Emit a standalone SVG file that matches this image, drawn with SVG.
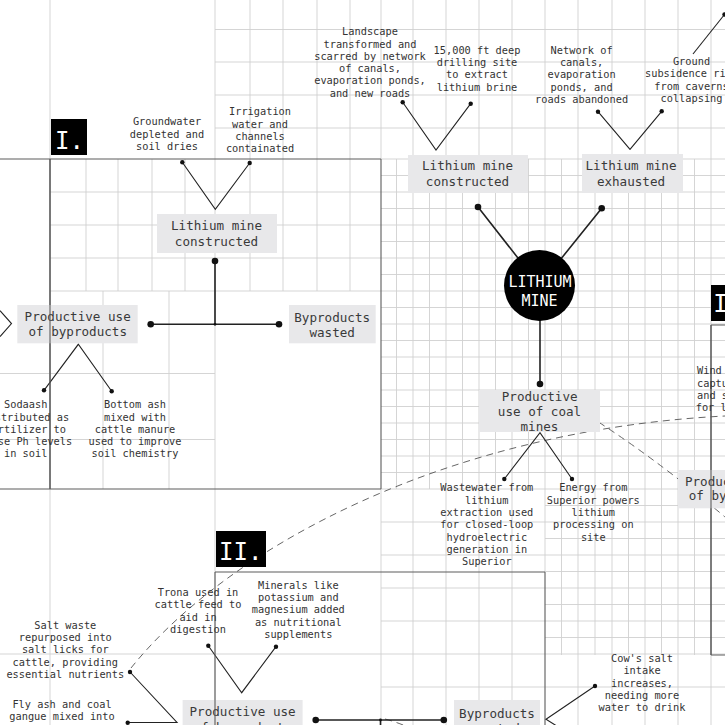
<svg xmlns="http://www.w3.org/2000/svg" width="725" height="725" viewBox="0 0 725 725">
<defs>
<style>
.grid{stroke:#d0d0d0;stroke-width:0.9;fill:none}
.edge{stroke:#5c5c5c;stroke-width:1.1;fill:none}
.lbl{fill:#e8e8ea}
.s{font-family:"DejaVu Sans Mono","Liberation Mono",monospace;font-size:10.3px;fill:#333;text-anchor:middle}
.sl{font-family:"DejaVu Sans Mono","Liberation Mono",monospace;font-size:10.3px;fill:#333;text-anchor:start}
.l{font-family:"DejaVu Sans Mono","Liberation Mono",monospace;font-size:12.6px;fill:#3a3a3a;text-anchor:middle}
.ln{stroke:#222;stroke-width:1.1;fill:none}
.lnb{stroke:#222;stroke-width:1.6;fill:none}
.dash{stroke:#555;stroke-width:0.9;fill:none;stroke-dasharray:7 5}
.dot{fill:#111}
.wt{font-family:"DejaVu Sans Mono","Liberation Mono",monospace;fill:#fff}
</style>
</defs>
<rect width="725" height="725" fill="#fff"/>

<g id="grid">
<path class="grid" d="M250,0V159M283,0V159M317,0V159M350,0V159M381,0V159M413,0V159M446,0V159M479,0V159M512,0V159M545,0V159M578,0V159M612,0V159M645,0V159M678,0V159M711,0V159
M215,29.5H725M215,62H725M215,95H725M215,128H725
M50,0V725M215,0V725M381,159H725
M86,159V291M118,159V291M152,159V291M185,159V291M250,159V291M283,159V291M317,159V291M350,159V291
M50,192H381M50,225H381M50,258H381M50,291H381
M103,291V489M169,291V489M0,373.5H215M0,439.5H215
M413,159V725M446,159V725M479,159V725M512,159V725M545,159V572M578,159V725M612,159V725M645,159V725M678,159V725M711,159V325M711,655V725
M396.5,159V489M429.5,159V489M462.5,159V489M495.5,159V489M528.5,159V489M561.5,159V655M595,159V655M628.5,159V655M661.5,159V655M694.5,159V655
M381,489V725
M381,175.5H725M381,192H725M381,208.5H725M381,225H725M381,241.5H725M381,258H725M381,274.5H725M381,291H725M381,307.5H725M381,324H725M381,340.5H725M381,357H725M381,373.5H725M381,390H725M381,406.5H725M381,423H725M381,439.5H725M381,456H725M381,472.5H725M381,489H725
M545,505.5H725M381,522H725M545,538.5H725M381,555H725M545,571.5H725M381,588H725M545,604.5H725M381,621H725M545,637.5H725M0,654H725M381,687H725"/>
<path class="edge" d="M0,159H381M0,489H381M50,159V489M381,159V489M215,572H545M545,572V725M711,325V655M711,325H725M711,655H725"/>
</g>

<g id="connectors">
<path class="dash" d="M131,668 C230,545 450,430 725,416"/>
<path class="dash" d="M558,397 Q640,445 725,517"/>
<path class="dash" d="M385,719 Q400,723 412,729"/>
<path class="ln" d="M182.3,162.3L215.3,209.3L249.7,163"/>
<path class="lnb" d="M215,261V324.3M150.7,324.3H279"/>
<path class="ln" d="M0,310.7L11.5,323.6L0,336.6"/>
<path class="ln" d="M44,390.3L78.3,344.3L111.7,391.3"/>
<path class="ln" d="M402.7,102.3L436,150L470.7,103.7"/>
<path class="ln" d="M598,111.7L630,149.3L661.7,111.3"/>
<path class="ln" d="M693,54L724.5,14.5"/>
<path class="lnb" d="M478,207L539.5,285.5L601.7,208.3M540,285.5V384"/>
<path class="ln" d="M504.3,479L540,432.7L572,479"/>
<path class="ln" d="M208.3,645.7L241.7,692.7L276,646.7"/>
<path class="ln" d="M130,672L177,722.5L127.7,722.5"/>
<path class="lnb" d="M315.7,720H443.8M380.5,720V725"/>
<path class="ln" d="M595,686L546,719.3L560,728"/>
<g class="dot">
<circle cx="182.3" cy="162.3" r="2.2"/><circle cx="249.7" cy="163" r="2.2"/>
<circle cx="215" cy="261" r="3.3"/><circle cx="150.7" cy="324.3" r="3.3"/><circle cx="279" cy="324.3" r="3.3"/><circle cx="215" cy="324.3" r="1.4"/>
<circle cx="44" cy="390.3" r="2.2"/><circle cx="111.7" cy="391.3" r="2.2"/>
<circle cx="402.7" cy="102.3" r="2.2"/><circle cx="470.7" cy="103.7" r="2.2"/>
<circle cx="598" cy="111.7" r="2.2"/><circle cx="661.7" cy="111.3" r="2.2"/>
<circle cx="724.5" cy="14.5" r="2.2"/>
<circle cx="478" cy="207" r="3.3"/><circle cx="601.7" cy="208.3" r="3.3"/><circle cx="540" cy="384" r="3.3"/>
<circle cx="504.3" cy="479" r="2.2"/><circle cx="572" cy="479" r="2.2"/>
<circle cx="208.3" cy="645.7" r="2.2"/><circle cx="276" cy="646.7" r="2.2"/>
<circle cx="130" cy="672" r="2.2"/><circle cx="127.7" cy="722.7" r="2.2"/>
<circle cx="315.7" cy="720" r="3.3"/><circle cx="443.8" cy="720" r="3.3"/><circle cx="380.5" cy="720" r="1.4"/>
<circle cx="595" cy="686" r="2.2"/>
</g>
</g>

<g id="section-I"><rect x="51" y="119" width="36" height="36" fill="#000"/><text class="wt" x="55" y="148.5" font-size="24">I.</text></g>
<g id="section-II"><rect x="216" y="531" width="50" height="36" fill="#000"/><text class="wt" x="219" y="560" font-size="24">II.</text></g>
<g id="section-III"><rect x="711" y="285" width="40" height="36" fill="#000"/><text class="wt" x="713.3" y="312" font-size="24">III.</text></g>

<g id="lithium-mine"><circle cx="539.5" cy="285.5" r="35.5" fill="#000"/>
<text class="wt" x="540" y="287.3" font-size="15" text-anchor="middle">LITHIUM</text>
<text class="wt" x="539.5" y="306" font-size="15" text-anchor="middle">MINE</text></g>

<g id="box1-constructed"><rect class="lbl" x="157" y="214" width="120" height="39"/>
<text class="l"><tspan x="216.5" y="230">Lithium mine</tspan><tspan x="216.5" y="245.5">constructed</tspan></text></g>
<g id="box1-productive"><rect class="lbl" x="17.3" y="305" width="120.4" height="38.3"/>
<text class="l"><tspan x="77.7" y="321.2">Productive use</tspan><tspan x="77.7" y="336.2">of byproducts</tspan></text></g>
<g id="box1-wasted"><rect class="lbl" x="289" y="305" width="86.7" height="38.3"/>
<text class="l"><tspan x="332.2" y="322.2">Byproducts</tspan><tspan x="332.2" y="336.8">wasted</tspan></text></g>
<g id="top-constructed"><rect class="lbl" x="408" y="155" width="120" height="38"/>
<text class="l"><tspan x="467.5" y="170.2">Lithium mine</tspan><tspan x="467.5" y="186.2">constructed</tspan></text></g>
<g id="top-exhausted"><rect class="lbl" x="582" y="154" width="101" height="39"/>
<text class="l"><tspan x="631" y="170">Lithium mine</tspan><tspan x="631" y="186">exhausted</tspan></text></g>
<g id="coal-mines"><rect class="lbl" x="479" y="390" width="121" height="42"/>
<text class="l"><tspan x="539.7" y="400.5">Productive</tspan><tspan x="539.5" y="415.5">use of coal</tspan><tspan x="539.5" y="430.5">mines</tspan></text></g>
<g id="box2-productive"><rect class="lbl" x="182.6" y="700" width="120" height="40"/>
<text class="l"><tspan x="242.6" y="716.2">Productive use</tspan><tspan x="242.6" y="731.5">of byproducts</tspan></text></g>
<g id="box2-wasted"><rect class="lbl" x="454" y="700" width="86" height="40"/>
<text class="l"><tspan x="497" y="717.8">Byproducts</tspan><tspan x="497" y="733">wasted</tspan></text></g>
<g id="box3-productive"><rect class="lbl" x="678" y="470" width="120" height="38.3"/>
<text class="l"><tspan x="738" y="485.5">Productive use</tspan><tspan x="738" y="499.5">of byproducts</tspan></text></g>

<g id="edges-over"><path class="edge" d="M50,159V489M215,572V725M711,325V655"/></g>

<g id="note-landscape"><text class="s"><tspan x="370" y="35.2">Landscape</tspan><tspan x="370" y="47.5">transformed and</tspan><tspan x="370" y="59.8">scarred by network</tspan><tspan x="370" y="72.1">of canals,</tspan><tspan x="370" y="84.4">evaporation ponds,</tspan><tspan x="370" y="96.7">and new roads</tspan></text></g>
<g id="note-drilling"><text class="s"><tspan x="477" y="53.7">15,000 ft deep</tspan><tspan x="477" y="66">drilling site</tspan><tspan x="477" y="78.3">to extract</tspan><tspan x="477" y="90.6">lithium brine</tspan></text></g>
<g id="note-network"><text class="s"><tspan x="581.6" y="53.7">Network of</tspan><tspan x="581.6" y="66">canals,</tspan><tspan x="581.6" y="78.3">evaporation</tspan><tspan x="581.6" y="90.6">ponds, and</tspan><tspan x="581.6" y="102.9">roads abandoned</tspan></text></g>
<g id="note-ground"><text class="s"><tspan x="691.5" y="65">Ground</tspan><tspan x="691.5" y="77.3">subsidence risk</tspan><tspan x="691.5" y="89.6">from caverns</tspan><tspan x="691.5" y="101.9">collapsing</tspan></text></g>
<g id="note-groundwater"><text class="s"><tspan x="167" y="125.4">Groundwater</tspan><tspan x="167" y="137.7">depleted and</tspan><tspan x="167" y="150">soil dries</tspan></text></g>
<g id="note-irrigation"><text class="s"><tspan x="260" y="115.3">Irrigation</tspan><tspan x="260" y="127.6">water and</tspan><tspan x="260" y="139.9">channels</tspan><tspan x="260" y="152.2">containated</tspan></text></g>
<g id="note-sodaash"><text class="s"><tspan x="25.7" y="408.2">Sodaash</tspan><tspan x="25.7" y="420.5">distributed as</tspan><tspan x="25.7" y="432.8">fertilizer to</tspan><tspan x="25.7" y="445.1">raise Ph levels</tspan><tspan x="25.7" y="457.4">in soil</tspan></text></g>
<g id="note-bottomash"><text class="s"><tspan x="135" y="408.2">Bottom ash</tspan><tspan x="135" y="420.5">mixed with</tspan><tspan x="135" y="432.8">cattle manure</tspan><tspan x="135" y="445.1">used to improve</tspan><tspan x="135" y="457.4">soil chemistry</tspan></text></g>
<g id="note-wastewater"><text class="s"><tspan x="486.8" y="491.4">Wastewater from</tspan><tspan x="486.8" y="503.7">lithium</tspan><tspan x="486.8" y="516">extraction used</tspan><tspan x="486.8" y="528.3">for closed-loop</tspan><tspan x="486.8" y="540.6">hydroelectric</tspan><tspan x="486.8" y="552.9">generation in</tspan><tspan x="486.8" y="565.2">Superior</tspan></text></g>
<g id="note-energy"><text class="s"><tspan x="593.3" y="491.4">Energy from</tspan><tspan x="593.3" y="503.7">Superior powers</tspan><tspan x="593.3" y="516">lithium</tspan><tspan x="593.3" y="528.3">processing on</tspan><tspan x="593.3" y="540.6">site</tspan></text></g>
<g id="note-wind"><text class="sl"><tspan x="697" y="374.3">Wind energy</tspan><tspan x="697" y="386.6">captured</tspan><tspan x="697" y="398.9">and stored</tspan><tspan x="695.7" y="411.2">for lithium</tspan></text></g>
<g id="note-trona"><text class="s"><tspan x="198" y="596">Trona used in</tspan><tspan x="198" y="608.3">cattle feed to</tspan><tspan x="198" y="620.6">aid in</tspan><tspan x="198" y="632.9">digestion</tspan></text></g>
<g id="note-minerals"><text class="s"><tspan x="298.3" y="588.7">Minerals like</tspan><tspan x="298.3" y="601">potassium and</tspan><tspan x="298.3" y="613.3">magnesium added</tspan><tspan x="298.3" y="625.6">as nutritional</tspan><tspan x="298.3" y="637.9">supplements</tspan></text></g>
<g id="note-salt"><text class="s"><tspan x="65.3" y="628.7">Salt waste</tspan><tspan x="65.3" y="641">repurposed into</tspan><tspan x="65.3" y="653.3">salt licks for</tspan><tspan x="65.3" y="665.6">cattle, providing</tspan><tspan x="65.3" y="677.9">essential nutrients</tspan></text></g>
<g id="note-flyash"><text class="s"><tspan x="62" y="707.7">Fly ash and coal</tspan><tspan x="62" y="720">gangue mixed into</tspan></text></g>
<g id="note-cow"><text class="s"><tspan x="642" y="662">Cow's salt</tspan><tspan x="642" y="674.3">intake</tspan><tspan x="642" y="686.6">increases,</tspan><tspan x="642" y="698.9">needing more</tspan><tspan x="642" y="711.2">water to drink</tspan></text></g>
</svg>
